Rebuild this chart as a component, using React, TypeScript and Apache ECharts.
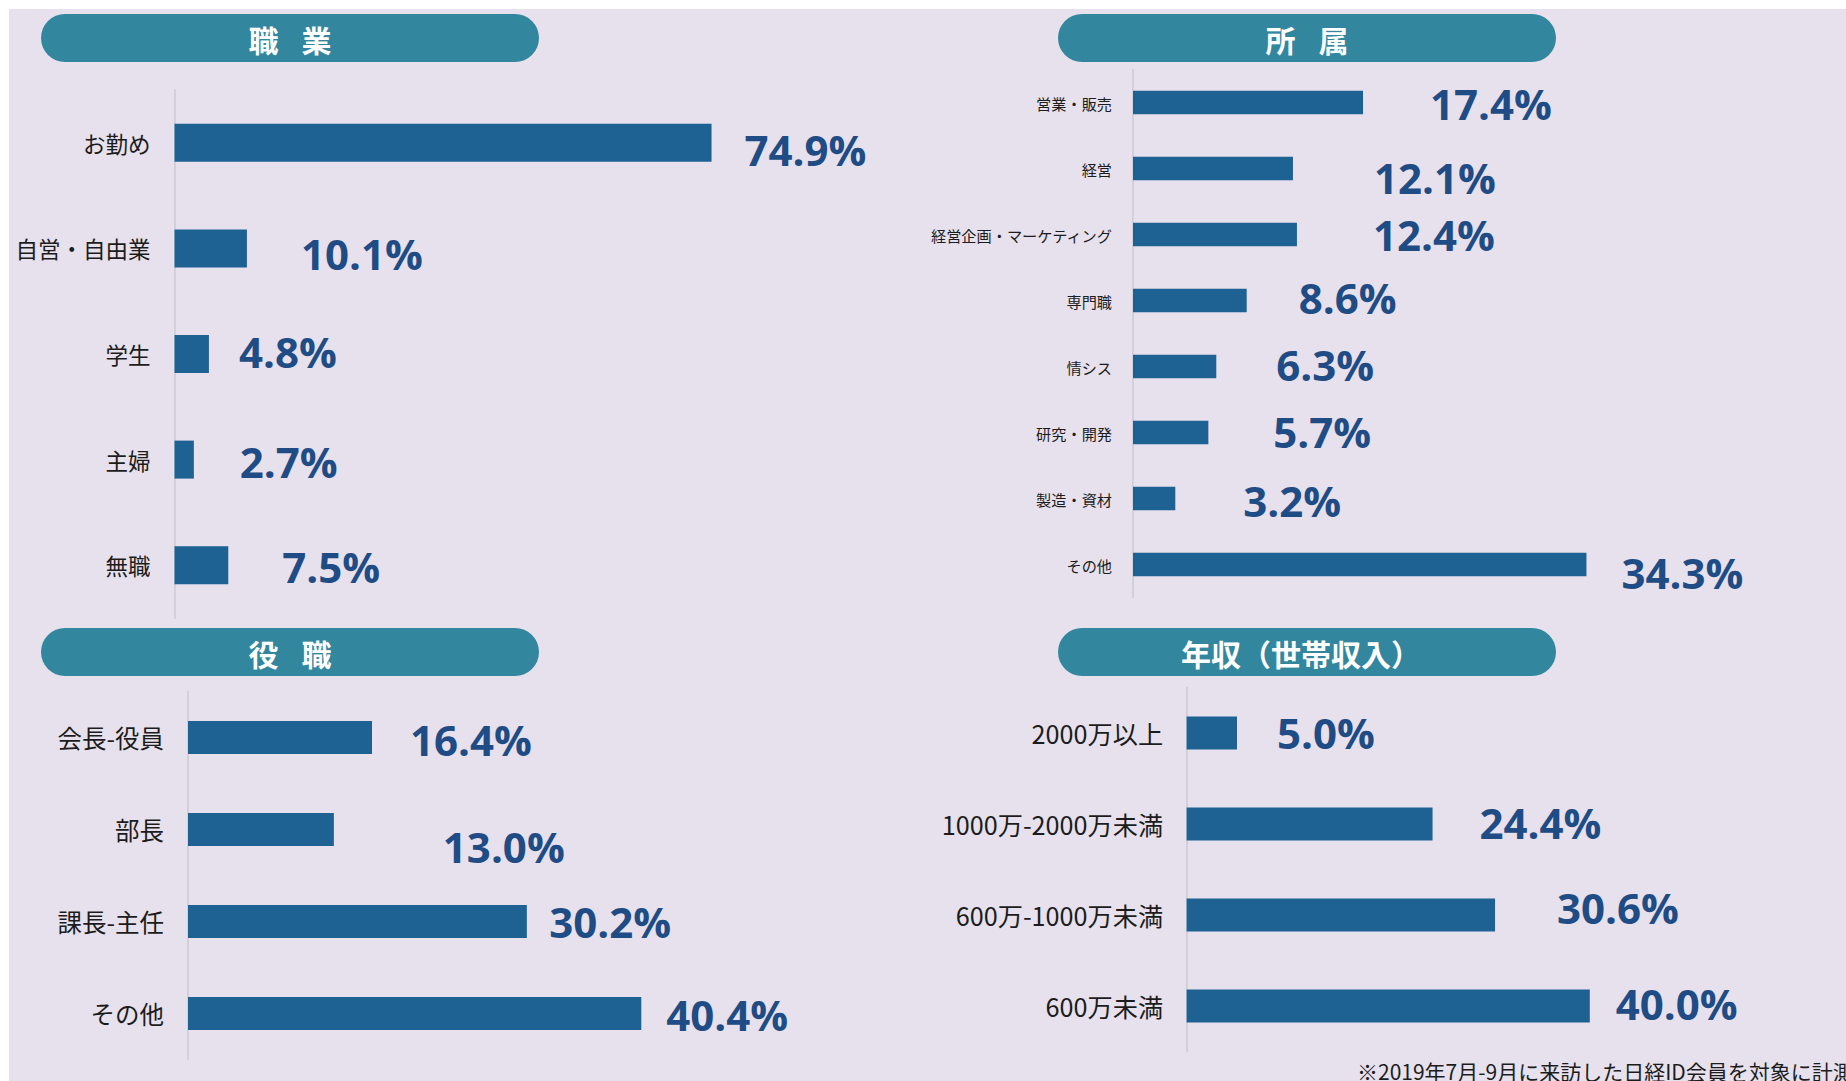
import React, { useEffect, useRef } from "react";
import * as echarts from "echarts";

// ---------- data ----------
const jobCats = ["お勤め", "自営・自由業", "学生", "主婦", "無職"];
const jobVals = [74.9, 10.1, 4.8, 2.7, 7.5];

const deptCats = ["営業・販売", "経営", "経営企画・マーケティング", "専門職", "情シス", "研究・開発", "製造・資材", "その他"];
const deptVals = [17.4, 12.1, 12.4, 8.6, 6.3, 5.7, 3.2, 34.3];

const posCats = ["会長-役員", "部長", "課長-主任", "その他"];
const posVals = [16.4, 13.0, 30.2, 40.4];

const incomeCats = ["2000万以上", "1000万-2000万未満", "600万-1000万未満", "600万未満"];
const incomeVals = [5.0, 24.4, 30.6, 40.0];

const panelTitles = ["職 業", "所 属", "役 職", "年収（世帯収入）"];
const footnote = "※2019年7月-9月に来訪した日経ID会員を対象に計測";

// ---------- styling / layout ----------
const BG = "#E6E1EC";
const PILL = "#32869E";
const BAR = "#1E6193";
const VALUE = "#1F4C84";
const AXIS = "#D4D0D9";
const CJK = "'Noto Sans CJK JP', 'Noto Sans', sans-serif";
const NUM = "'Open Sans', 'Noto Sans', sans-serif";

// label nudges [dx from bar end, dy from bar centre]
const jobNudge = [[33, 7], [54, 5], [30, -3], [46, 2], [54, 1]];
const deptNudge = [[67, 1], [81, 8.5], [76, -0.5], [52, -3.5], [60, -2], [65, -1], [68, 1.5], [35, 7.5]];
const posNudge = [[38, 1.5], [109, 16.5], [22.5, 0], [25, 0.5]];
const incomeNudge = [[40, -1], [47, -2], [62, -7.5], [26, -3]];

const panels = [
  { cats: jobCats, vals: jobVals, nudge: jobNudge, grid: { left: 174.5, top: 90, width: 717, height: 528 }, max: 100, barWidth: 38, catSize: 22.5, margin: 24 },
  { cats: deptCats, vals: deptVals, nudge: deptNudge, grid: { left: 1133, top: 69.5, width: 661, height: 528 }, max: 50, barWidth: 23.5, catSize: 15.2, margin: 21 },
  { cats: posCats, vals: posVals, nudge: posNudge, grid: { left: 188, top: 691.5, width: 561, height: 368 }, max: 50, barWidth: 33, catSize: 24.5, margin: 24 },
  { cats: incomeCats, vals: incomeVals, nudge: incomeNudge, grid: { left: 1186.6, top: 687.5, width: 504, height: 364 }, max: 50, barWidth: 33, catSize: 25.2, margin: 23.5 },
];

const pills = [
  { x: 41, y: 14 },
  { x: 1058, y: 14 },
  { x: 41, y: 628 },
  { x: 1058, y: 628 },
];
const PILL_W = 498;
const PILL_H = 48;

function buildOption() {
  const grids: any[] = [];
  const xAxes: any[] = [];
  const yAxes: any[] = [];
  const series: any[] = [];
  panels.forEach((p, i) => {
    grids.push({ ...p.grid, containLabel: false, outerBoundsMode: "none" });
    xAxes.push({ type: "value", gridIndex: i, min: 0, max: p.max, show: false });
    yAxes.push({
      type: "category",
      gridIndex: i,
      data: p.cats,
      inverse: true,
      axisLine: { show: true, lineStyle: { color: AXIS, width: 2 } },
      axisTick: { show: false },
      splitLine: { show: false },
      axisLabel: { margin: p.margin, fontSize: p.catSize, color: "#1c1c1c", fontFamily: CJK },
    });
    series.push({
      type: "bar",
      xAxisIndex: i,
      yAxisIndex: i,
      barWidth: p.barWidth,
      itemStyle: { color: BAR },
      data: p.vals.map((v, k) => ({
        value: v,
        label: { offset: p.nudge[k] },
      })),
      label: {
        show: true,
        position: "right",
        distance: 0,
        fontFamily: NUM,
        fontWeight: "bold",
        fontSize: 42,
        color: VALUE,
        formatter: (d: any) => Number(d.value).toFixed(1) + "%",
      },
    });
  });

  const graphic: any[] = [
    { type: "rect", z: -100, shape: { x: 9, y: 9, width: 1846, height: 1081 }, style: { fill: BG } },
  ];
  pills.forEach((pp, i) => {
    graphic.push({
      type: "rect",
      z: 1,
      shape: { x: pp.x, y: pp.y, width: PILL_W, height: PILL_H, r: PILL_H / 2 },
      style: { fill: PILL },
    });
    const cx = pp.x + PILL_W / 2;
    const cy = pp.y + PILL_H / 2 + 1;
    const t = panelTitles[i];
    const parts = t.split(" ");
    if (parts.length === 2) {
      parts.forEach((ch, k) => {
        graphic.push({
          type: "text",
          z: 2,
          x: cx + (k === 0 ? -26.5 : 26.5),
          y: cy,
          style: { text: ch, fill: "#fff", font: `bold 30px ${CJK}`, textAlign: "center", textVerticalAlign: "middle" },
        });
      });
    } else {
      graphic.push({
        type: "text",
        z: 2,
        x: cx - 6,
        y: cy,
        style: { text: t, fill: "#fff", font: `bold 30px ${CJK}`, textAlign: "center", textVerticalAlign: "middle" },
      });
    }
  });
  graphic.push({
    type: "text",
    z: 2,
    x: 1357,
    y: 1071,
    style: { text: footnote, fill: "#1c1c1c", font: `21px ${CJK}`, textAlign: "left", textVerticalAlign: "middle" },
  });

  return {
    animation: false,
    backgroundColor: "#ffffff",
    grid: grids,
    xAxis: xAxes,
    yAxis: yAxes,
    series,
    graphic,
  };
}

export default function App() {
  const ref = useRef<HTMLDivElement>(null);
  useEffect(() => {
    if (!ref.current) return;
    const chart = echarts.init(ref.current, undefined, { renderer: "svg" });
    chart.setOption(buildOption() as any);
    return () => chart.dispose();
  }, []);
  return (
    <div
      ref={ref}
      style={{ position: "fixed", left: 0, top: 0, width: 1846, height: 1081 }}
    />
  );
}
